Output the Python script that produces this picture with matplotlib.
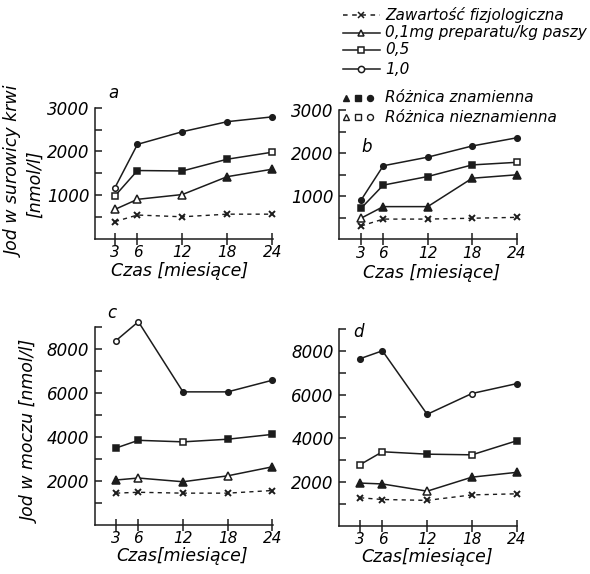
import matplotlib
matplotlib.use('Agg')
import matplotlib.pyplot as plt
from matplotlib.lines import Line2D

plt.rcParams['font.family'] = ['DejaVu Sans']
plt.rcParams['font.style'] = 'italic'

W, H = 590, 574
INK = '#1c1c1c'

months = [3, 6, 12, 18, 24]

# a: jod w surowicy krwi (grupa 1)
a_fizjol = [390, 540, 500, 560, 560]
a_01 = [670, 900, 1010, 1420, 1590]
a_05 = [980, 1560, 1550, 1820, 1980]
a_10 = [1170, 2160, 2450, 2680, 2790]
# b: jod w surowicy krwi (grupa 2)
b_fizjol = [310, 470, 470, 490, 510]
b_01 = [490, 760, 760, 1420, 1500]
b_05 = [720, 1260, 1460, 1730, 1790]
b_10 = [910, 1710, 1910, 2170, 2360]
# c: jod w moczu (grupa 1)
c_fizjol = [1430, 1470, 1430, 1430, 1550]
c_01 = [2030, 2120, 1950, 2220, 2630]
c_05 = [3490, 3840, 3770, 3890, 4110]
c_10 = [8390, 9250, 6050, 6050, 6580]
# d: jod w moczu (grupa 2)
d_fizjol = [1290, 1210, 1170, 1420, 1470]
d_01 = [1960, 1920, 1590, 2230, 2450]
d_05 = [2800, 3390, 3280, 3250, 3890]
d_10 = [7640, 8000, 5100, 6050, 6500]

# czy różnica znamienna (pełny znacznik)
a_sig = {'01': [0, 0, 0, 1, 1], '05': [0, 1, 1, 1, 0], '10': [0, 1, 1, 1, 1]}
b_sig = {'01': [0, 1, 1, 1, 1], '05': [1, 1, 1, 1, 0], '10': [1, 1, 1, 1, 1]}
c_sig = {'01': [1, 0, 1, 0, 1], '05': [1, 1, 0, 1, 1], '10': [0, 0, 1, 1, 1]}
d_sig = {'01': [1, 1, 0, 1, 1], '05': [0, 0, 1, 0, 1], '10': [1, 1, 1, 0, 1]}

MK = {'01': ('^', 5.5), '05': ('s', 4.8), '10': ('o', 4.0)}

fig = plt.figure(figsize=(W / 100, H / 100), dpi=100, facecolor='white')


def px_axes(x0, x1, y0, y1):
    """axes z pikseli (lewo, prawo, dół, góra)"""
    return fig.add_axes([x0 / W, 1 - y0 / H, (x1 - x0) / W, (y0 - y1) / H])


def fx(px):
    return px / W


def fy(py):
    return 1 - py / H


def panel(ax, fiz, s01, s05, s10, sig, xlim, ymax, ystep, ylab_step):
    ax.plot(months, fiz, ls=(0, (3, 3)), color=INK, lw=1.0,
            marker='x', ms=4.5, mew=1.4, clip_on=False)
    for key, vals in (('01', s01), ('05', s05), ('10', s10)):
        m, ms = MK[key]
        ax.plot(months, vals, '-', color=INK, lw=1.1, clip_on=False)
        for xv, yv, f in zip(months, vals, sig[key]):
            ax.plot(xv, yv, marker=m, ms=ms, mew=1.1, mec=INK,
                    mfc=INK if f else 'white', zorder=3, clip_on=False)
    ax.set_xlim(*xlim)
    ax.set_ylim(0, ymax)
    for s in ('top', 'right'):
        ax.spines[s].set_visible(False)
    for s in ('left', 'bottom'):
        ax.spines[s].set_color(INK)
        ax.spines[s].set_linewidth(1.1)
    ax.set_xticks(months)
    ax.set_xticklabels([str(m) for m in months], fontsize=11)
    ax.tick_params(axis='x', direction='inout', length=8, width=1.1,
                   color=INK, pad=0.5)
    yt = list(range(ystep, ymax + 1, ystep))
    ax.set_yticks(yt)
    ax.set_yticklabels([str(v) if v % ylab_step == 0
                        and not (ymax > 3000 and v == ymax) else ''
                        for v in yt], fontsize=12)
    ax.tick_params(axis='y', direction='in', length=5, width=1.1,
                   color=INK, pad=4)
    ax.patch.set_alpha(0)


# pozycje osi w pikselach (wyliczone z rysunku)
ax_a = px_axes(95, 273, 238.6, 107.7)
panel(ax_a, a_fizjol, a_01, a_05, a_10, a_sig, (0.33, 24.1), 3000, 500, 1000)
ax_b = px_axes(339, 517.4, 239.3, 110.3)
panel(ax_b, b_fizjol, b_01, b_05, b_10, b_sig, (0.03, 24.1), 3000, 500, 1000)
ax_c = px_axes(95, 273, 524.5, 327.2)
panel(ax_c, c_fizjol, c_01, c_05, c_10, c_sig, (0.17, 24.1), 9000, 1000, 2000)
ax_d = px_axes(339.3, 517.4, 526, 328.9)
panel(ax_d, d_fizjol, d_01, d_05, d_10, d_sig, (0.22, 24.1), 9000, 1000, 2000)

# litery paneli
fig.text(fx(113), fy(93), 'a', fontsize=12, ha='center', va='center')
fig.text(fx(367), fy(147), 'b', fontsize=12, ha='center', va='center')
fig.text(fx(112), fy(313), 'c', fontsize=12, ha='center', va='center')
fig.text(fx(358), fy(332), 'd', fontsize=12, ha='center', va='center')

# opisy osi
fig.text(fx(15), fy(172), 'Jod w surowicy krwi', fontsize=12.5, rotation=90,
         ha='center', va='center')
fig.text(fx(35), fy(184), '[nmol/l]', fontsize=12.5, rotation=90,
         ha='center', va='center')
fig.text(fx(31), fy(432), 'Jod w moczu [nmol/l]', fontsize=12.5, rotation=90,
         ha='center', va='center')
fig.text(fx(180), fy(271), 'Czas [miesiące]', fontsize=12.5, ha='center', va='center')
fig.text(fx(432), fy(273), 'Czas [miesiące]', fontsize=12.5, ha='center', va='center')
fig.text(fx(182), fy(556), 'Czas[miesiące]', fontsize=12.5, ha='center', va='center')
fig.text(fx(427), fy(557), 'Czas[miesiące]', fontsize=12.5, ha='center', va='center')

# legenda
leg_rows = [
    (15, (0, (3, 3)), 'x', 'Zawartość fizjologiczna'),
    (33, '-', '^', '0,1mg preparatu/kg paszy'),
    (50, '-', 's', '0,5'),
    (69, '-', 'o', '1,0'),
]
for py, ls, m, label in leg_rows:
    fig.add_artist(Line2D([fx(343), fx(380)], [fy(py), fy(py)], ls=ls,
                          color=INK, lw=1.1))
    fig.add_artist(Line2D([fx(361)], [fy(py)], marker=m, ms=4.5, mew=1.1,
                          mec=INK, mfc='white', ls='none'))
    fig.text(fx(385), fy(py), label, fontsize=11, va='center')

for py, fill, label in ((98, True, 'Różnica znamienna'),
                        (117, False, 'Różnica nieznamienna')):
    for px, m in ((346, '^'), (358, 's'), (370, 'o')):
        fig.add_artist(Line2D([fx(px)], [fy(py)], marker=m, ms=4.3, mew=1.0,
                              mec=INK, mfc=INK if fill else 'white', ls='none'))
    fig.text(fx(385), fy(py), label, fontsize=11, va='center')

fig.savefig('out.png', dpi=100, facecolor='white')
